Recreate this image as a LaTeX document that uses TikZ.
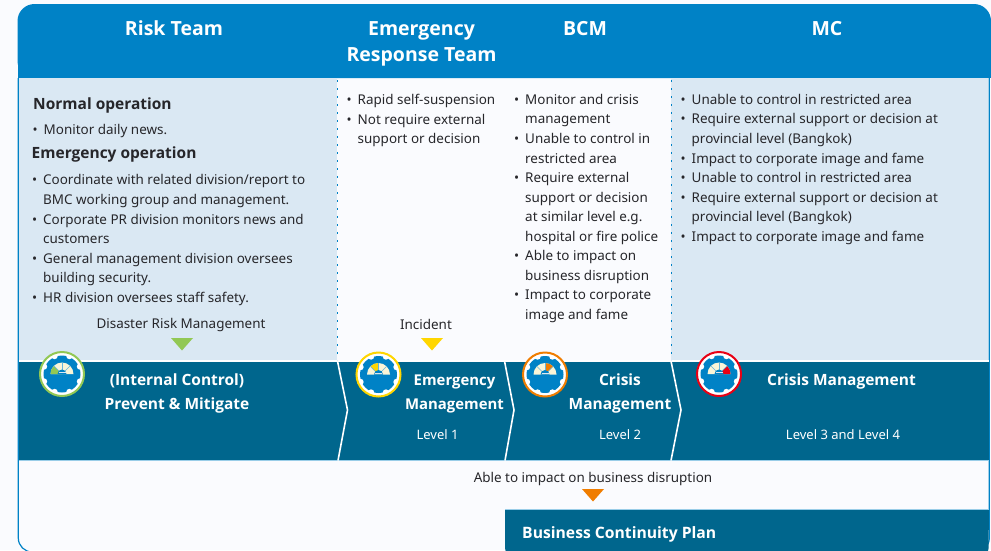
\documentclass[tikz,border=0pt]{standalone}
\usepackage{fontspec}
\setmainfont{Noto Sans}
\newfontfamily\fett{Open Sans}
\usetikzlibrary{calc}
\definecolor{kopf}{RGB}{0,130,198}
\definecolor{band}{RGB}{0,102,141}
\definecolor{panel}{RGB}{218,232,243}
\definecolor{grund}{RGB}{250,251,254}
\definecolor{schrift}{RGB}{38,38,42}
\definecolor{creme}{RGB}{250,245,215}
\definecolor{stufeA}{RGB}{146,200,84}
\definecolor{stufeB}{RGB}{255,214,0}
\definecolor{stufeC}{RGB}{240,125,0}
\definecolor{stufeD}{RGB}{232,0,20}
\newcommand{\bul}{\makebox[11pt][l]{•}}
\newcommand{\ein}{\hspace*{11pt}}
\tikzset{
	kopftext/.style={text=white, font=\fontsize{19.5}{26}\selectfont\fett\bfseries, align=center},
	bandtext/.style={text=white, font=\fontsize{15.5}{24}\selectfont\fett\bfseries, align=center},
	stufetext/.style={text=white, font=\fontsize{13}{16}\selectfont},
	liste/.style={text=schrift, anchor=north west, inner sep=0pt, align=left, font=\fontsize{13.45}{19.55}\selectfont},
	titel/.style={text=schrift, anchor=west, inner sep=0pt, font=\fontsize{15.5}{19}\selectfont\fett\bfseries},
	notiz/.style={text=schrift, inner sep=0pt, font=\fontsize{13.45}{16}\selectfont},
	pfeilchen/.style={draw=none, fill=#1},
	punktlinie/.style={kopf, line width=1.6pt, dash pattern=on 1.6pt off 6.4pt},
	zacke/.style={white, line width=1.6pt, line join=miter},
	pics/gauge/.style n args={3}{code={
		\fill[white] (0,0) circle (22pt);
		\fill[kopf] (0,0) circle (18.5pt);
		\foreach \w in {0,45,...,315}
			\fill[white] (\w+22.5:19.5pt) circle (3.2pt);
		\draw[#1, line width=2pt] (0,0) circle (22pt);
		\fill[creme] (180:11.5pt) arc (180:0:11.5pt) -- cycle;
		\fill[#1] (0,0) -- (#2:11.5pt) arc (#2:#3:11.5pt) -- cycle;
		\foreach \w in {45,90,135}
			\draw[kopf!60, line width=0.4pt] (\w:4pt) -- (\w:11.5pt);
		\fill[kopf] (4.5pt,0) arc (0:180:4.5pt) -- cycle;
		\draw[panel, line width=0.6pt] (-3.5pt,1.5pt) -- (3.5pt,1.5pt);
	}}
}

\begin{document}
\begin{tikzpicture}[x=1pt, y=-1pt]
	\useasboundingbox (0,0) rectangle (991,550);
	\fill[grund] (0,0) rectangle (991,550);

	% Kopf und Rahmen
	\fill[kopf, rounded corners=17pt] (17.5,78) -- (17.5,4) -- (991,4) -- (991,78) -- cycle;
	\fill[kopf] (17.5,60) rectangle (991,78);
	\fill[panel] (19,78) rectangle (337,360);
	\fill[panel] (671,78) rectangle (988,360);
	\draw[kopf, line width=1.2pt, rounded corners=14pt] (18.3,78) -- (18.3,552) -- (989.3,552) -- (989.3,78);

	% Baender
	\fill[band] (19,362) rectangle (988.6,460);
	\draw[white!60!kopf, line width=0.8pt] (19,460.5) -- (988.6,460.5);
	\fill[band, rounded corners=12pt] (505,510) -- (505,560) -- (988.6,560) -- (988.6,510) -- cycle;
	\fill[band] (505,510) rectangle (988.6,530);
	\draw[white!60!kopf, line width=0.8pt] (505,509.5) -- (988.6,509.5);
	\draw[white, line width=1.6pt] (19,361) -- (988.6,361);

	% Trenner
	\draw[punktlinie] (337.5,80) -- (337.5,360);
	\draw[punktlinie] (671.5,80) -- (671.5,360);
	\draw[zacke] (337.5,361) -- (347.5,410) -- (338,460.5);
	\draw[zacke] (504.5,361) -- (514,410) -- (505,460.5);
	\draw[zacke] (671,361) -- (681,410) -- (671,460.5);

	% Kopftexte
	\node[kopftext] (risk) at (174,28.5) {Risk Team};
	\node[kopftext] (ert) at (421.5,43.5) {Emergency\\Response Team};
	\node[kopftext] (bcm) at (585,29) {BCM};
	\node[kopftext] (mc) at (827,29) {MC};

	% Spalte 1
	\node[titel] (normal) at (33,105) {Normal operation};
	\node[liste] (normalliste) at (32.5,124) {\bul Monitor daily news.};
	\node[titel] (notfall) at (31.5,154) {Emergency operation};
	\node[liste] (notfallliste) at (32,174.5) {\bul Coordinate with related division/report to\\
		\ein BMC working group and management.\\
		\bul Corporate PR division monitors news and\\
		\ein customers\\
		\bul General management division oversees\\
		\ein building security.\\
		\bul HR division oversees staff safety.};
	\node[notiz] (drm) at (181,325) {Disaster Risk Management};
	\fill[pfeilchen=stufeA] (171,338) -- (193,338) -- (182,350.5) -- cycle;

	% Spalte 2
	\node[liste] (ertliste) at (346.5,94) {\bul Rapid self-suspension\\
		\bul Not require external\\
		\ein support or decision};
	\node[notiz] (incident) at (426,324.5) {Incident};
	\fill[pfeilchen=stufeB] (421,338) -- (443,338) -- (432,350.5) -- cycle;

	% Spalte 3
	\node[liste] (bcmliste) at (514,94) {\bul Monitor and crisis\\
		\ein management\\
		\bul Unable to control in\\
		\ein restricted area\\
		\bul Require external\\
		\ein support or decision\\
		\ein at similar level e.g.\\
		\ein hospital or fire police\\
		\bul Able to impact on\\
		\ein business disruption\\
		\bul Impact to corporate\\
		\ein image and fame};

	% Spalte 4
	\node[liste] (mcliste) at (680.5,94) {\bul Unable to control in restricted area\\
		\bul Require external support or decision at\\
		\ein provincial level (Bangkok)\\
		\bul Impact to corporate image and fame\\
		\bul Unable to control in restricted area\\
		\bul Require external support or decision at\\
		\ein provincial level (Bangkok)\\
		\bul Impact to corporate image and fame};

	% Bandtexte
	\node[bandtext] (internal) at (177,393) {(Internal Control)\\Prevent \& Mitigate};
	\node[bandtext, font=\fontsize{14.9}{24}\selectfont\fett\bfseries] (emerg) at (454.5,393.5) {Emergency\\Management};
	\node[stufetext] (level1) at (437.5,435) {Level 1};
	\node[bandtext] (crisis) at (620,393.5) {Crisis\\Management};
	\node[stufetext] (level2) at (620,435) {Level 2};
	\node[bandtext] (crisisb) at (841.5,381) {Crisis Management};
	\node[stufetext] (level34) at (843,435) {Level 3 and Level 4};

	% Symbole
	\pic (gaugeA) at (62,374) {gauge={stufeA}{180}{135}};
	\pic (gaugeB) at (378.5,374.5) {gauge={stufeB}{135}{90}};
	\pic (gaugeC) at (545,374.5) {gauge={stufeC}{90}{45}};
	\pic (gaugeD) at (719,374) {gauge={stufeD}{45}{0}};

	% unten
	\node[notiz] (able) at (593,479) {Able to impact on business disruption};
	\fill[pfeilchen=stufeC] (582,489) -- (604,489) -- (593,501.5) -- cycle;
	\node[text=white, anchor=west, inner sep=0pt, font=\fontsize{15.7}{19}\selectfont\fett\bfseries] (bcp) at (522,534.5) {Business Continuity Plan};
\end{tikzpicture}
\end{document}
